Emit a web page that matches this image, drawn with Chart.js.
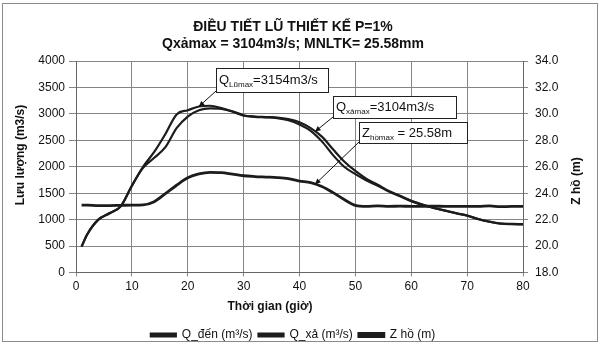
<!DOCTYPE html>
<html>
<head>
<meta charset="utf-8">
<script src="https://cdn.jsdelivr.net/npm/chart.js@4/dist/chart.umd.min.js"></script>
<style>
  html, body { margin: 0; padding: 0; background: #ffffff; }
  #wrap { width: 602px; height: 348px; position: relative; }
</style>
</head>
<body>
<div id="wrap"><canvas id="c" width="602" height="348"></canvas></div>
<script>
// ---- data ----
const times = [1, 2, 4, 6, 8, 10, 12, 14, 16, 18, 20, 22, 24, 26, 28, 30, 32, 34, 36, 38, 40,
               42, 44, 46, 48, 50, 52, 54, 56, 58, 60, 62, 64, 66, 68, 70, 72, 74, 76, 78, 80];
const qDen = [490, 720, 1000, 1120, 1250, 1640, 2000, 2280, 2620, 2990, 3070, 3140, 3154, 3110, 3040, 2965, 2945, 2935, 2920, 2880, 2800,
              2680, 2480, 2220, 2000, 1860, 1740, 1640, 1530, 1440, 1350, 1280, 1220, 1170, 1120, 1075, 1010, 960, 925, 915, 910];
const qXa  = [490, 720, 1000, 1120, 1250, 1640, 1980, 2170, 2370, 2730, 2950, 3070, 3104, 3095, 3050, 2975, 2950, 2940, 2930, 2900, 2840,
              2730, 2570, 2330, 2100, 1920, 1770, 1660, 1540, 1450, 1355, 1285, 1222, 1172, 1122, 1077, 1012, 962, 927, 918, 915];
const zHo  = [23.10, 23.10, 23.06, 23.06, 23.08, 23.10, 23.12, 23.36, 23.96, 24.60, 25.16, 25.46, 25.58, 25.56, 25.44, 25.32, 25.26, 25.22, 25.18, 25.10, 24.92,
              24.80, 24.50, 24.04, 23.52, 23.08, 23.00, 23.04, 23.00, 23.02, 23.00, 23.00, 23.02, 23.00, 23.00, 23.00, 23.00, 23.04, 22.98, 23.00, 23.00];
const xTicks = [0, 10, 20, 30, 40, 50, 60, 70, 80];
const titleLines = ["ĐIỀU TIẾT LŨ THIẾT KẾ P=1%", "Qxảmax = 3104m3/s; MNLTK= 25.58mm"];
const seriesNames = ["Q_đến (m³/s)", "Q_xả (m³/s)", "Z hồ (m)"];
const xTitle = "Thời gian (giờ)";
const yTitle = "Lưu lượng (m3/s)";
const y1Title = "Z hồ (m)";
// callouts: [main, subscript, rest], series, time pointed at
const callouts = [
  { main: "Q", sub: "Lũmax", rest: "=3154m3/s", series: qDen, axis: "y",  t: 22 },
  { main: "Q", sub: "xảmax", rest: "=3104m3/s", series: qXa,  axis: "y",  t: 42.8 },
  { main: "Z", sub: "hồmax", rest: " = 25.58m", series: zHo,  axis: "y1", t: 42.8 }
];
// box geometry (layout only)
const boxes = [
  { x: 216, y: 68,  w: 112, h: 24 },
  { x: 333, y: 96,  w: 123, h: 22 },
  { x: 359, y: 122, w: 108, h: 21 }
];

const FONT = "'Liberation Sans', Arial, sans-serif";
const pts = (vals) => times.map((t, i) => ({ x: t, y: vals[i] }));
function interp(vals, t) {
  for (let i = 0; i < times.length - 1; i++) {
    if (t >= times[i] && t <= times[i + 1]) {
      const f = (t - times[i]) / (times[i + 1] - times[i]);
      return vals[i] + f * (vals[i + 1] - vals[i]);
    }
  }
  return vals[vals.length - 1];
}

const extras = {
  id: 'extras',
  beforeDraw(chart) {
    const ctx = chart.ctx;
    ctx.save();
    ctx.fillStyle = '#ffffff';
    ctx.fillRect(0, 0, chart.width, chart.height);
    ctx.restore();
  },
  afterDraw(chart) {
    const ctx = chart.ctx;
    const xs = chart.scales.x;
    ctx.save();
    // outer frame
    ctx.strokeStyle = '#8a8a8a';
    ctx.lineWidth = 1;
    ctx.strokeRect(2.5, 3.5, 595, 338);
    // axis titles
    ctx.fillStyle = '#111';
    ctx.font = "bold 12px " + FONT;
    ctx.textAlign = 'center';
    ctx.textBaseline = 'middle';
    ctx.fillText(xTitle, 270, 307);
    ctx.save();
    ctx.translate(21, 155);
    ctx.rotate(-Math.PI / 2);
    ctx.fillText(yTitle, 0, 0);
    ctx.restore();
    ctx.save();
    ctx.translate(577, 181);
    ctx.rotate(-Math.PI / 2);
    ctx.fillText(y1Title, 0, 0);
    ctx.restore();
    // callouts
    callouts.forEach((c, i) => {
      const b = boxes[i];
      const tx = xs.getPixelForValue(c.t);
      const ty = chart.scales[c.axis].getPixelForValue(interp(c.series, c.t));
      const sx = b.x, sy = b.y + b.h - 1;
      ctx.strokeStyle = '#111';
      ctx.lineWidth = 1;
      ctx.beginPath();
      ctx.moveTo(sx, sy);
      ctx.lineTo(tx, ty);
      ctx.stroke();
      const ang = Math.atan2(ty - sy, tx - sx);
      ctx.fillStyle = '#111';
      ctx.beginPath();
      ctx.moveTo(tx, ty);
      ctx.lineTo(tx - 6 * Math.cos(ang - 0.45), ty - 6 * Math.sin(ang - 0.45));
      ctx.lineTo(tx - 6 * Math.cos(ang + 0.45), ty - 6 * Math.sin(ang + 0.45));
      ctx.closePath();
      ctx.fill();
      ctx.fillStyle = '#ffffff';
      ctx.fillRect(b.x, b.y, b.w, b.h);
      ctx.strokeStyle = '#222';
      ctx.strokeRect(b.x + 0.5, b.y + 0.5, b.w, b.h);
      ctx.fillStyle = '#111';
      ctx.textAlign = 'left';
      ctx.textBaseline = 'alphabetic';
      let x = b.x + 3;
      const base = b.y + b.h / 2 + 4;
      ctx.font = "13px " + FONT;
      ctx.fillText(c.main, x, base);
      x += ctx.measureText(c.main).width;
      ctx.font = "8px " + FONT;
      ctx.fillText(c.sub, x, base + 3);
      x += ctx.measureText(c.sub).width;
      ctx.font = "13px " + FONT;
      ctx.fillText(c.rest, x, base);
    });
    ctx.restore();
  }
};

const gridColor = '#858585';
const lineColor = '#1c1c1c';

new Chart(document.getElementById('c'), {
  type: 'line',
  data: {
    datasets: [
      { label: seriesNames[0], data: pts(qDen), yAxisID: 'y', borderColor: lineColor, backgroundColor: lineColor,
        borderWidth: 2.2, pointRadius: 0, cubicInterpolationMode: 'monotone' },
      { label: seriesNames[1], data: pts(qXa), yAxisID: 'y', borderColor: lineColor, backgroundColor: lineColor,
        borderWidth: 2.2, pointRadius: 0, cubicInterpolationMode: 'monotone' },
      { label: seriesNames[2], data: pts(zHo), yAxisID: 'y1', borderColor: lineColor, backgroundColor: lineColor,
        borderWidth: 2.8, pointRadius: 0, cubicInterpolationMode: 'monotone' }
    ]
  },
  options: {
    responsive: false,
    animation: false,
    events: [],
    layout: { padding: { top: 4, left: 0, right: 16, bottom: 3 } },
    plugins: {
      title: {
        display: true,
        text: titleLines,
        color: '#111',
        font: { family: FONT, size: 14, weight: 'bold', lineHeight: 1.2 },
        padding: { top: 14.6, bottom: 8.8 }
      },
      legend: {
        display: true,
        position: 'bottom',
        maxHeight: 22,
        labels: {
          color: '#111',
          font: { family: FONT, size: 12 },
          boxWidth: 25,
          boxHeight: 3,
          padding: 6
        }
      },
      tooltip: { enabled: false }
    },
    scales: {
      x: {
        type: 'linear',
        min: 0, max: 80,
        afterBuildTicks(s) { s.ticks = xTicks.map(v => ({ value: v })); },
        afterFit(s) { s.height = 50.5; },
        ticks: { color: '#111', font: { family: FONT, size: 12 }, padding: 3 },
        grid: { color: gridColor, lineWidth: 1, tickLength: 4 },
        border: { color: '#666' }
      },
      y: {
        position: 'left',
        min: 0, max: 4000,
        ticks: { stepSize: 500, color: '#111', font: { family: FONT, size: 12 }, padding: 4,
                 callback: (v) => String(v) },
        afterFit(s) { s.width = 76; },
        grid: { color: gridColor, lineWidth: 1, tickLength: 7 },
        border: { color: '#666' }
      },
      y1: {
        position: 'right',
        min: 18, max: 34,
        ticks: { stepSize: 2, color: '#111', font: { family: FONT, size: 12 }, padding: 7,
                 callback: (v) => Number(v).toFixed(1) },
        afterFit(s) { s.width = 63; },
        grid: { drawOnChartArea: false, color: gridColor, tickLength: 5 },
        border: { color: '#666' }
      }
    }
  },
  plugins: [extras]
});
</script>
</body>
</html>
